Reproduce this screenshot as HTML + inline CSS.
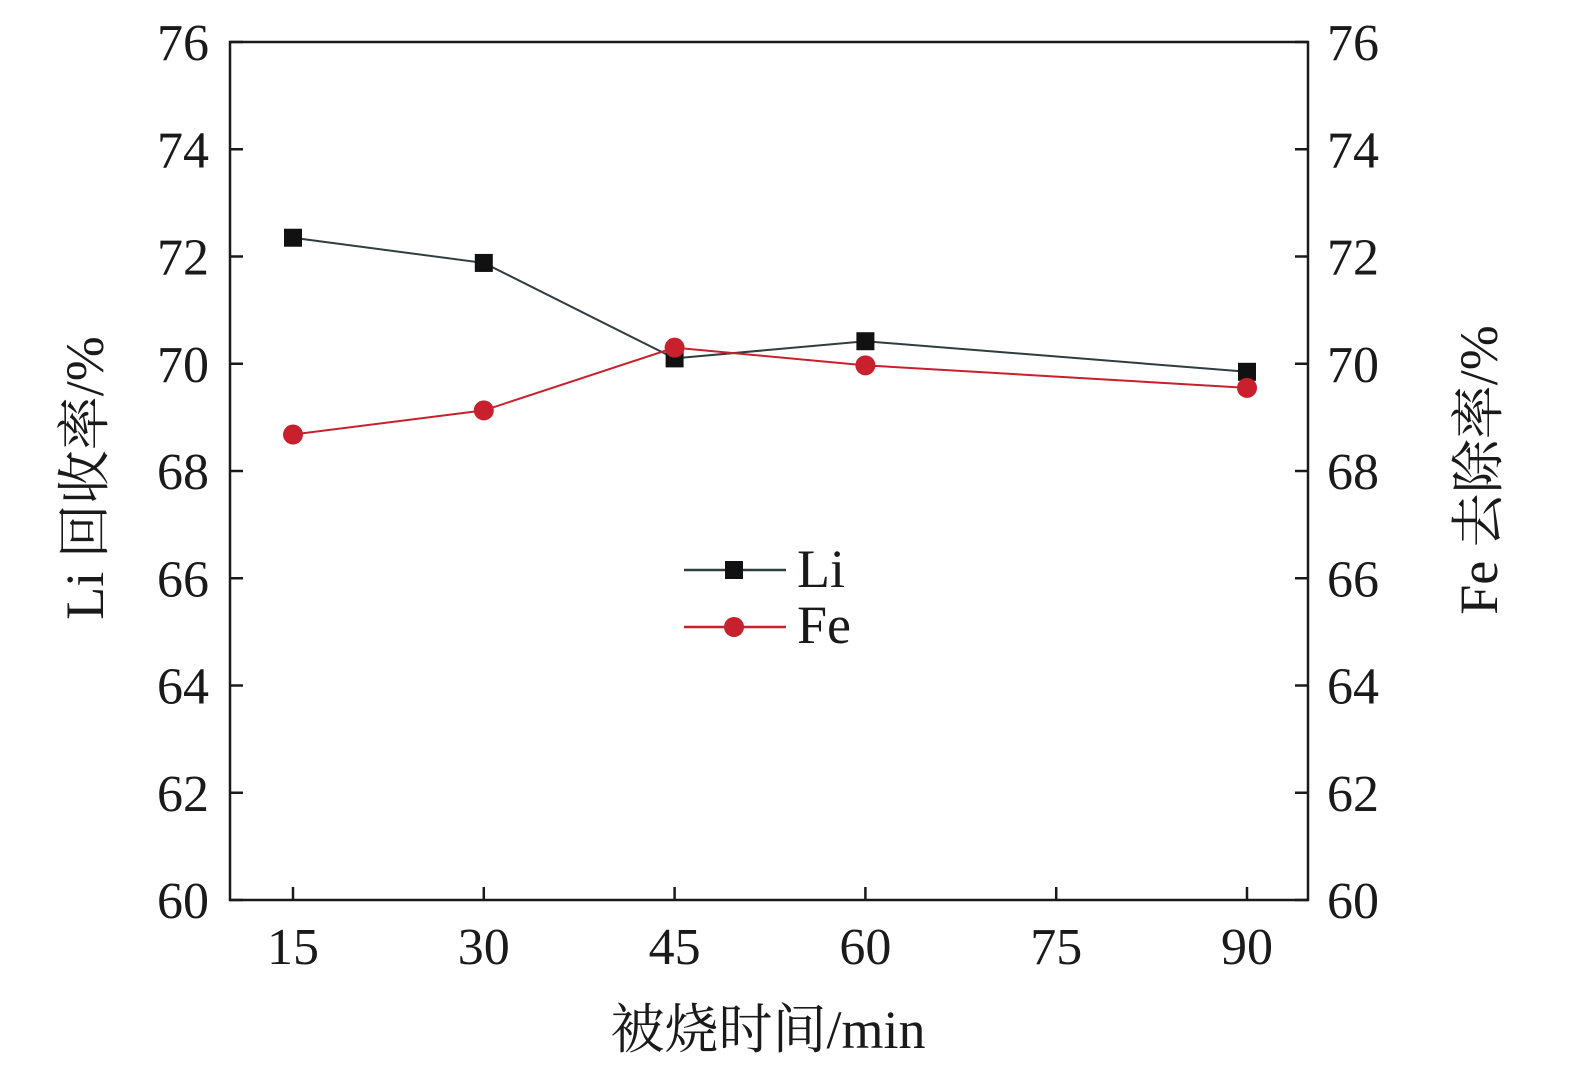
<!DOCTYPE html>
<html><head><meta charset="utf-8"><style>
html,body{margin:0;padding:0;background:#fff;}
svg text{font-family:"Liberation Serif","Noto Serif CJK SC",serif;fill:#1a1a1a;}
</style></head><body>
<svg width="1575" height="1083" xmlns="http://www.w3.org/2000/svg">
<g id="plot"></g>
</svg>
<script>
const xTicks=[15,30,45,60,75,90];
const yTicks=[60,62,64,66,68,70,72,74,76];
const times=[15,30,45,60,90];
const liValues=[72.35,71.88,70.1,70.42,69.85];
const feValues=[68.68,69.13,70.3,69.97,69.55];
const X0=230,X1=1308,Y0=900,Y1=42;
function sx(v){return 293+(v-15)*(1247-293)/75;}
function sy(v){return Y0-(v-60)*(Y0-Y1)/16;}
const svg=document.getElementById('plot');
const NS='http://www.w3.org/2000/svg';
function mk(tag,attrs,parent){const e=document.createElementNS(NS,tag);for(const k in attrs)e.setAttribute(k,attrs[k]);(parent||svg).appendChild(e);return e;}
let box=mk('rect',{x:X0,y:Y1,width:X1-X0,height:Y0-Y1,fill:'none',stroke:'#1a1a1a','stroke-width':2.5});


yTicks.forEach(v=>{
  const y=sy(v);
  let t=mk('line',{x1:X0,x2:X0+13,y1:y,y2:y,stroke:'#1a1a1a','stroke-width':2.5});
  
  
  let t2=mk('line',{x1:X1-13,x2:X1,y1:y,y2:y,stroke:'#1a1a1a','stroke-width':2.5});
  
  
  let l=mk('text',{x:209,y:y+18,'text-anchor':'end','font-size':52});l.textContent=v;
  
  
  let r=mk('text',{x:1327,y:y+18,'text-anchor':'start','font-size':52});r.textContent=v;
  
  
});
xTicks.forEach(v=>{
  const x=sx(v);
  let t=mk('line',{x1:x,x2:x,y1:Y0,y2:Y0-13,stroke:'#1a1a1a','stroke-width':2.5});
  
  
  let l=mk('text',{x:x,y:964,'text-anchor':'middle','font-size':52});l.textContent=v;
  
  
});
function series(vals,color,lineColor,shape,name){
  const pts=vals.map((v,i)=>sx(times[i])+','+sy(v)).join(' ');
  let pl=mk('polyline',{points:pts,fill:'none',stroke:lineColor,'stroke-width':2});
  
  
  vals.forEach((v,i)=>{
    const x=sx(times[i]),y=sy(v);let m;
    if(shape==='sq')m=mk('rect',{x:x-9,y:y-9,width:18,height:18,fill:color});
    else m=mk('circle',{cx:x,cy:y,r:10,fill:color});
    
    
  });
}
series(liValues,'#111','#2f3d3f','sq','li');
series(feValues,'#c8202c','#c8202c','ci','fe');
let g=mk('g',{});


mk('line',{x1:684,x2:786,y1:570,y2:570,stroke:'#2f3d3f','stroke-width':2.5},g);
mk('rect',{x:725,y:561,width:18,height:18,fill:'#111'},g);
let lt=mk('text',{x:797,y:587,'font-size':54},g);lt.textContent='Li';
mk('line',{x1:684,x2:786,y1:627,y2:627,stroke:'#c8202c','stroke-width':2.5},g);
mk('circle',{cx:734,cy:627,r:10,fill:'#c8202c'},g);
let ft=mk('text',{x:797,y:643,'font-size':54},g);ft.textContent='Fe';
let xt=mk('text',{x:768,y:1048,'text-anchor':'middle','font-size':54});xt.textContent='被烧时间/min';


let yl=mk('text',{x:0,y:0,'text-anchor':'middle','font-size':54,transform:'translate(103,478) rotate(-90)'});yl.textContent='Li 回收率/%';


let yr=mk('text',{x:0,y:0,'text-anchor':'middle','font-size':54,transform:'translate(1497,470) rotate(-90)'});yr.textContent='Fe 去除率/%';


</script>
</body></html>
